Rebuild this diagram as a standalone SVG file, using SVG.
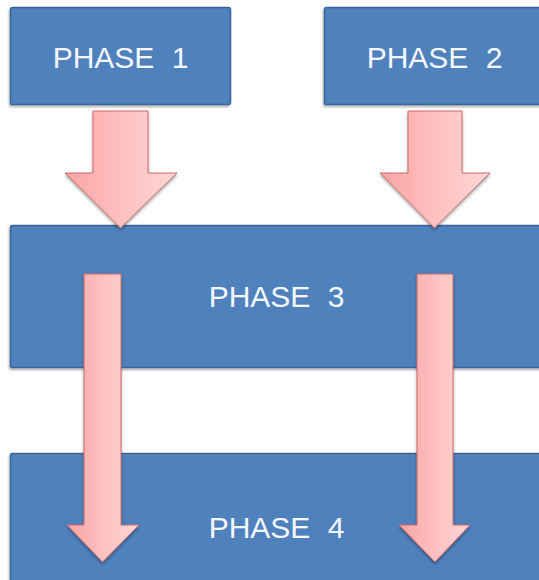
<svg xmlns="http://www.w3.org/2000/svg" width="539" height="580" viewBox="0 0 539 580">
  <defs>
    <linearGradient id="pink" x1="0" y1="0" x2="1" y2="0">
      <stop offset="0" stop-color="#F9A3A3"/>
      <stop offset="0.5" stop-color="#FFC0C0"/>
      <stop offset="1" stop-color="#FFD6D6"/>
    </linearGradient>
    <filter id="soft" x="-20%" y="-20%" width="140%" height="140%">
      <feGaussianBlur in="SourceAlpha" stdDeviation="1.5"/>
      <feOffset dx="0" dy="1.5" result="b"/>
      <feComponentTransfer><feFuncA type="linear" slope="0.35"/></feComponentTransfer>
      <feMerge><feMergeNode/><feMergeNode in="SourceGraphic"/></feMerge>
    </filter>
    <filter id="boxshade" x="-5%" y="-10%" width="110%" height="120%">
      <feGaussianBlur in="SourceAlpha" stdDeviation="1"/>
      <feOffset dx="-1" dy="1.5" result="b"/>
      <feComponentTransfer><feFuncA type="linear" slope="0.3"/></feComponentTransfer>
      <feMerge><feMergeNode/><feMergeNode in="SourceGraphic"/></feMerge>
    </filter>
  </defs>
  <style>
    .box { fill: #4F81BD; stroke: #3A6595; stroke-width: 1.5; filter: url(#boxshade); }
    .label { font-family: "Liberation Sans", Arial, sans-serif; font-size: 30px; fill: #F4F8FC; text-anchor: middle; word-spacing: 9px; }
    .arrow { fill: url(#pink); stroke: #C86A6A; stroke-width: 1; stroke-linejoin: miter; filter: url(#soft); }
  </style>
  <rect width="539" height="580" fill="#FFFFFF"/>

  <g id="phase1">
    <rect class="box" x="10.5" y="7.5" width="220" height="97" rx="2"/>
    <text class="label" x="120.5" y="68">PHASE 1</text>
  </g>
  <g id="phase2">
    <rect class="box" x="324.5" y="7.5" width="220" height="97" rx="2"/>
    <text class="label" x="434.5" y="68">PHASE 2</text>
  </g>
  <g id="phase3">
    <rect class="box" x="10.5" y="225.5" width="536" height="142" rx="2"/>
    <text class="label" x="276.5" y="307">PHASE 3</text>
  </g>
  <g id="phase4">
    <rect class="box" x="10.5" y="453.5" width="536" height="140" rx="2"/>
    <text class="label" x="276.5" y="538">PHASE 4</text>
  </g>

  <g id="connectors">
    <!-- short block arrows into phase 3 -->
    <polygon class="arrow" points="93,111 148,111 148,173 177,173 120.5,228 65,173 93,173"/>
    <polygon class="arrow" points="408,111 462,111 462,173 490,173 434.5,228 380,173 408,173"/>
    <!-- long block arrows through phase 3 into phase 4 -->
    <polygon class="arrow" points="84,274 121,274 121,525 139,525 102.5,562 67,525 84,525"/>
    <polygon class="arrow" points="417,274 453,274 453,525 470,525 435,562 399,525 417,525"/>
  </g>
</svg>
